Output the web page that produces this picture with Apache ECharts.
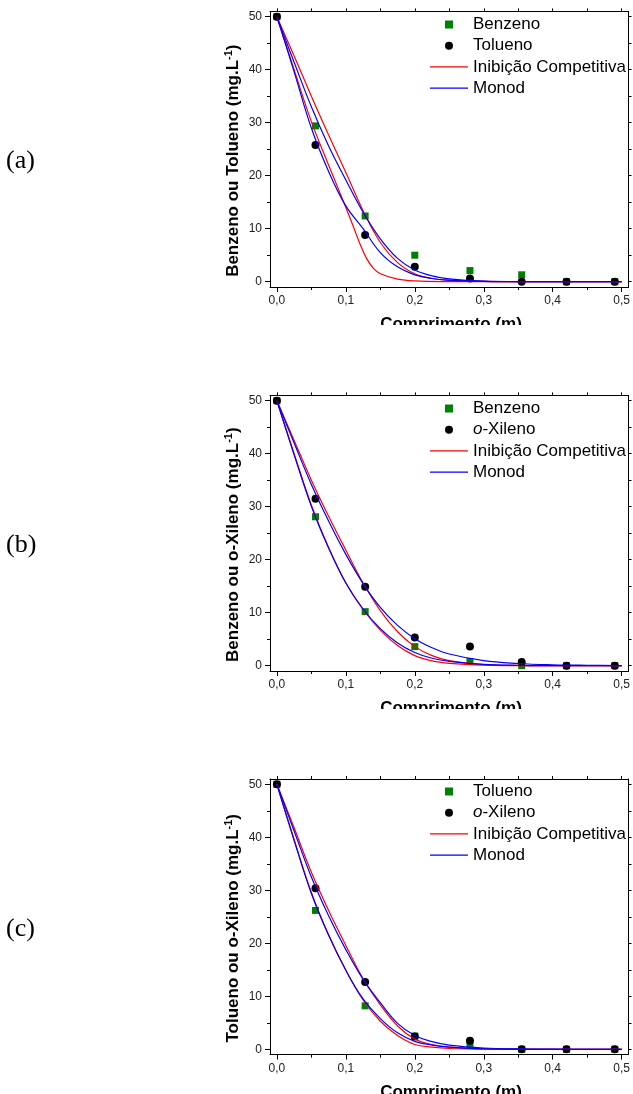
<!DOCTYPE html>
<html><head><meta charset="utf-8">
<script src="https://cdn.jsdelivr.net/npm/echarts@6/dist/echarts.min.js"></script>
<style>html,body{margin:0;padding:0;background:#fff}#c{width:633px;height:1094px}</style>
</head><body><div id="c"></div>
<script>
// ---- tick labels ----
const xMajor = [0, 0.1, 0.2, 0.3, 0.4, 0.5];
const xMinor = [0.05, 0.15, 0.25, 0.35, 0.45];
const yMajor = [0, 10, 20, 30, 40, 50];
const yMinor = [5, 15, 25, 35, 45];

// ---- measured points ----
const xPts = [0, 0.056, 0.128, 0.2, 0.28, 0.355, 0.42, 0.49];
const aBenzeno = [50, 29.4, 12.4, 5.0, 2.1, 1.3, 0, 0];
const aTolueno = [50, 25.8, 8.8, 2.8, 0.6, 0, 0, 0];
const bBenzeno = [50, 28.1, 10.2, 3.6, 0.8, 0, 0, 0];
const bXileno  = [50, 31.5, 14.9, 5.3, 3.6, 0.7, 0, 0];
const cTolueno = [50, 26.2, 8.2, 2.5, 0.8, 0, 0, 0];
const cXileno  = [50, 30.4, 12.7, 2.4, 1.6, 0, 0, 0];

// ---- model curves ----
const xCurve = [0, 0.025, 0.05, 0.075, 0.1, 0.125, 0.15, 0.175, 0.2, 0.225, 0.25, 0.3, 0.35, 0.4, 0.45, 0.5];
const xCurveKnee = [0, 0.025, 0.05, 0.075, 0.09, 0.1, 0.11, 0.12, 0.13, 0.14, 0.15, 0.175, 0.2, 0.25, 0.3, 0.4, 0.5];
const aCompB = [50, 42.6, 35.0, 27.7, 20.6, 13.4, 7.4, 3.6, 1.5, 0.6, 0.25, 0.05, 0, 0, 0, 0];
const aCompT = [50, 40.0, 30.2, 22.0, 17.2, 14.0, 10.7, 7.3, 4.4, 2.5, 1.5, 0.5, 0.15, 0.02, 0, 0, 0];
const aMonB  = [50, 41.4, 33.0, 25.6, 19.2, 13.1, 8.1, 4.4, 2.2, 1.1, 0.55, 0.12, 0.03, 0, 0, 0];
const aMonT  = [50, 39.6, 29.0, 20.8, 14.3, 10.0, 5.5, 2.8, 1.3, 0.6, 0.3, 0.06, 0, 0, 0, 0];
const bCompB = [50, 40.0, 30.3, 22.3, 15.6, 10.6, 6.7, 3.8, 1.9, 0.9, 0.45, 0.1, 0.02, 0, 0, 0];
const bCompX = [50, 42.5, 35.0, 28.2, 21.8, 15.6, 10.4, 6.4, 3.6, 1.9, 0.95, 0.22, 0.05, 0.01, 0, 0];
const bMonB  = [50, 39.8, 30.1, 22.2, 15.6, 10.7, 7.0, 4.3, 2.5, 1.4, 0.8, 0.25, 0.08, 0.02, 0, 0];
const bMonX  = [50, 42.0, 34.2, 27.3, 21.0, 15.5, 11.0, 7.6, 5.1, 3.4, 2.2, 0.95, 0.42, 0.18, 0.08, 0.03];
const cCompT = [50, 39.6, 29.6, 21.6, 14.9, 9.3, 5.3, 2.6, 0.9, 0.4, 0.15, 0.03, 0, 0, 0, 0];
const cCompX = [50, 41.8, 33.4, 26.2, 19.6, 13.3, 8.4, 4.4, 1.95, 0.9, 0.4, 0.08, 0.02, 0, 0, 0];
const cMonT  = [50, 39.4, 29.4, 21.5, 14.9, 9.5, 5.8, 3.1, 1.5, 0.8, 0.4, 0.1, 0.02, 0, 0, 0];
const cMonX  = [50, 41.2, 32.5, 25.2, 18.8, 13.2, 8.8, 4.9, 2.6, 1.45, 0.8, 0.25, 0.07, 0.02, 0, 0];

// ---- text ----
const panelTags = ['(a)', '(b)', '(c)'];
const xTitle = 'Comprimento (m)';
const yTitles = ['Benzeno ou Tolueno', 'Benzeno ou o-Xileno', 'Tolueno ou o-Xileno'];
const legendA = ['Benzeno', 'Tolueno', 'Inibição Competitiva', 'Monod'];
const legendB = ['Benzeno', 'o-Xileno', 'Inibição Competitiva', 'Monod'];
const legendC = ['Tolueno', 'o-Xileno', 'Inibição Competitiva', 'Monod'];

const FONT = '"Liberation Sans", Arial, Helvetica, sans-serif';
const GRID_TOPS = [11.4, 395.4, 779];
const GRID_H = 275.6;
const GRID_LEFT = 270, GRID_W = 362;

const panels = [
  {legend: legendA, sq: aBenzeno, ci: aTolueno,
   red: [[xCurve, aCompB], [xCurveKnee, aCompT]], blue: [[xCurve, aMonB], [xCurve, aMonT]]},
  {legend: legendB, sq: bBenzeno, ci: bXileno,
   red: [[xCurve, bCompB], [xCurve, bCompX]], blue: [[xCurve, bMonB], [xCurve, bMonX]]},
  {legend: legendC, sq: cTolueno, ci: cXileno,
   red: [[xCurve, cCompT], [xCurve, cCompX]], blue: [[xCurve, cMonT], [xCurve, cMonX]]}
];

const pair = (xs, ys) => xs.map((x, i) => [x, ys[i]]);
const fmtX = v => v.toFixed(1).replace('.', ',');

const grids = [], xAxes = [], yAxes = [], series = [], legends = [], graphics = [];

function xAx(g, pos, vals, len, label, line) {
  return {type: 'value', gridIndex: g, position: pos, min: -0.01, max: 0.51,
    axisLine: {show: line, onZero: false, lineStyle: {color: '#000', width: 1}},
    axisTick: {show: true, inside: false, length: len, customValues: vals, lineStyle: {color: '#000', width: 1}},
    axisLabel: {show: label, customValues: vals, margin: 8, fontSize: 12, color: '#222', fontFamily: FONT, formatter: fmtX},
    splitLine: {show: false}};
}
function yAx(g, pos, vals, len, label, line) {
  return {type: 'value', gridIndex: g, position: pos, min: -1, max: 51,
    axisLine: {show: line, onZero: false, lineStyle: {color: '#000', width: 1}},
    axisTick: {show: true, inside: false, length: len, customValues: vals, lineStyle: {color: '#000', width: 1}},
    axisLabel: {show: label, customValues: vals, margin: 8, fontSize: 12, color: '#222', fontFamily: FONT},
    splitLine: {show: false}};
}

const ICON_LINE = 'path://M0,0 L38,0 L38,1.4 L0,1.4 Z';
const ICON_SQ = 'path://M0,0 L7,0 L7,7 L0,7 Z';

panels.forEach((p, g) => {
  const top = GRID_TOPS[g];
  grids.push({left: GRID_LEFT, top: top, width: GRID_W, height: GRID_H, containLabel: false});
  const xi = xAxes.length, yi = yAxes.length;
  xAxes.push(xAx(g, 'bottom', xMajor, 5, true, true));
  xAxes.push(xAx(g, 'bottom', xMinor, 3, false, false));
  xAxes.push(xAx(g, 'top', xMajor.concat(xMinor), 3, false, true));
  yAxes.push(yAx(g, 'left', yMajor, 5, true, true));
  yAxes.push(yAx(g, 'left', yMinor, 3, false, false));
  yAxes.push(yAx(g, 'right', yMajor.concat(yMinor), 3, false, true));

  const tag = 'abc'[g] + ':';
  const names = p.legend.map(n => tag + n);
  series.push({type: 'scatter', name: names[0], xAxisIndex: xi, yAxisIndex: yi, symbol: 'rect', symbolSize: 7,
    itemStyle: {color: '#008000', opacity: 1}, data: pair(xPts, p.sq), z: 2});
  series.push({type: 'scatter', name: names[1], xAxisIndex: xi, yAxisIndex: yi, symbol: 'circle', symbolSize: 8,
    itemStyle: {color: '#000', opacity: 1}, data: pair(xPts, p.ci), z: 2});
  p.red.forEach(c => series.push({type: 'line', name: names[2], xAxisIndex: xi, yAxisIndex: yi, symbol: 'none',
    smooth: 0.4, lineStyle: {color: '#ff0000', width: 1.2}, itemStyle: {color: '#ff0000'},
    data: pair(c[0], c[1]), z: 3}));
  p.blue.forEach(c => series.push({type: 'line', name: names[3], xAxisIndex: xi, yAxisIndex: yi, symbol: 'none',
    smooth: 0.4, lineStyle: {color: '#0000ff', width: 1.2}, itemStyle: {color: '#0000ff'},
    data: pair(c[0], c[1]), z: 3}));

  legends.push({orient: 'vertical', left: 430, top: Math.round(top + 4.4), padding: 0, itemWidth: 38, itemHeight: 8, itemGap: 4.2,
    selectedMode: false, symbolKeepAspect: true,
    data: [
      {name: names[0], icon: ICON_SQ, itemStyle: {color: '#008000', opacity: 1, borderWidth: 0}},
      {name: names[1], icon: 'circle', itemStyle: {color: '#000', opacity: 1, borderWidth: 0}},
      {name: names[2], icon: ICON_LINE, itemStyle: {color: '#ff0000', borderWidth: 0}},
      {name: names[3], icon: ICON_LINE, itemStyle: {color: '#0000ff', borderWidth: 0}}
    ],
    formatter: n => { const s = n.slice(2); return s === 'o-Xileno' ? '{i|o}-Xileno' : s; },
    textStyle: {fontSize: 17, lineHeight: 17, color: '#000', fontFamily: FONT,
      rich: {i: {fontStyle: 'italic', fontSize: 17, lineHeight: 17, color: '#000', fontFamily: FONT}}}});

  // panel tag
  graphics.push({type: 'text', left: 6, top: top + 137, style: {text: panelTags[g], fontSize: 26,
    fontFamily: '"Liberation Serif", "Times New Roman", serif', fill: '#000'}});
  // y title
  graphics.push({type: 'text', x: 233, y: top + 149.3, rotation: Math.PI / 2,
    style: {text: '{b|' + yTitles[g] + ' (mg.L}{s|-1}{b|)}', align: 'center', verticalAlign: 'middle',
      rich: {b: {fontSize: 17, fontWeight: 'bold', fontFamily: FONT, fill: '#000', lineHeight: 20, verticalAlign: 'middle'},
             s: {fontSize: 11, fontWeight: 'bold', fontFamily: FONT, fill: '#000', lineHeight: 12, verticalAlign: 'top'}}}});
  // x title (cropped like the source image)
  const ty = top + GRID_H + 29;
  graphics.push({type: 'text', x: 451, y: ty, z: 10, style: {text: xTitle, align: 'center', verticalAlign: 'top',
    fontSize: 17, fontWeight: 'bold', fontFamily: FONT, fill: '#000'}});
  if (g < 2) {
    graphics.push({type: 'rect', z: 11, shape: {x: 300, y: ty + 9, width: 300, height: 20},
      style: {fill: '#fff'}});
  }
});

const chart = echarts.init(document.getElementById('c'), null, {renderer: 'canvas'});
chart.setOption({
  animation: false,
  backgroundColor: '#fff',
  grid: grids, xAxis: xAxes, yAxis: yAxes, series: series, legend: legends, graphic: graphics
});
</script></body></html>
